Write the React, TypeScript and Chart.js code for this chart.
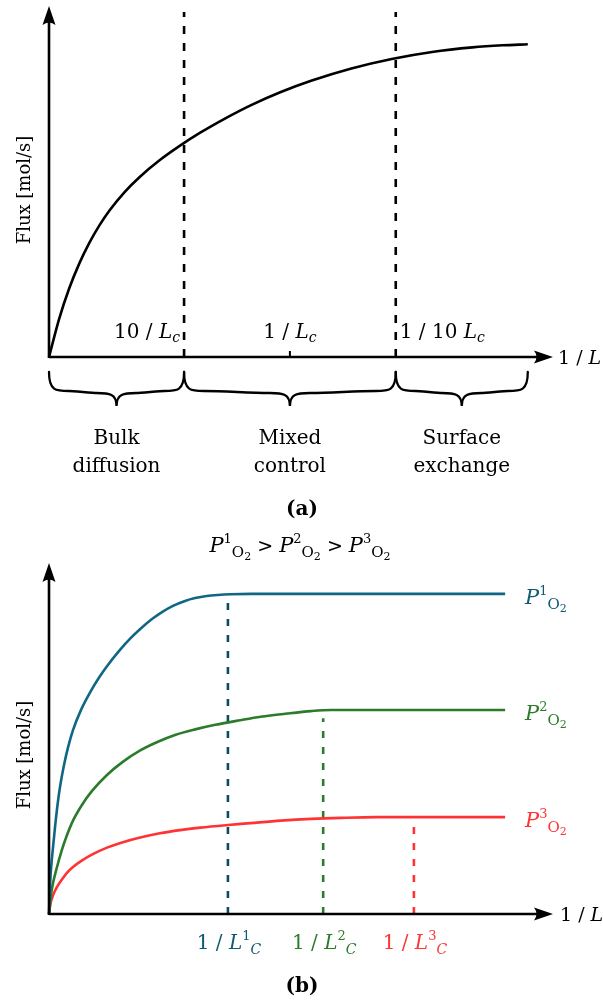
import { useEffect, useRef } from "react";
import { Chart, registerables } from "chart.js";
Chart.register(...registerables);

// ---------- Panel (a) data ----------
const topCurveX = [0, 2, 4, 6, 8, 10, 12, 15, 18, 22, 26, 30, 35, 40, 46, 52, 60, 68, 76, 84, 90, 95];
const topCurveY = [0, 10.8, 19.5, 26.6, 32.5, 37.5, 41.75, 47.0, 51.3, 56.1, 60.2, 63.9, 68.0, 71.7, 75.5, 78.7, 82.2, 84.9, 86.9, 88.2, 88.8, 89.1];
const topDividers = [26.8, 68.8];
const topDividerTop = 98.3;
const topTickX = 47.8;
const topTickLabels = ["10 / ", "1 / ", "1 / 10 "];
const topTickLabelX = [26.8, 47.8, 68.8];
const regionEdges = [0, 26.8, 68.8, 95.0];
const regionLabels = [
  ["Bulk", "diffusion"],
  ["Mixed", "control"],
  ["Surface", "exchange"],
];

// ---------- Panel (b) data ----------
const bX1 = [0, 0.25, 0.5, 0.79, 1.2, 1.7, 2.18, 3.0, 3.8, 4.76, 6.4, 8.13, 10, 11.5, 14, 16, 18.1, 20.5, 22.5, 24.6, 27, 29, 31.3, 33.5, 36, 40, 90.5];
const bY1 = [0, 9.5, 14.5, 18.9, 24.8, 31.2, 36.2, 42.6, 47.6, 52.4, 58.3, 63.1, 67.5, 70.6, 75.1, 78.3, 81.2, 84.1, 86.1, 87.8, 89.2, 90.0, 90.6, 90.9, 91.1, 91.2, 91.2];
const bX2 = [0, 0.4, 0.8, 1.59, 2.5, 3.5, 4.76, 6.5, 8.5, 11.5, 14.5, 18.1, 21.5, 25, 29, 33, 37.9, 42, 47.2, 52, 56, 90.5];
const bY2 = [0, 5.5, 8.8, 13.4, 18.0, 22.2, 26.6, 31.0, 35.0, 39.6, 43.2, 46.6, 49.0, 51.0, 52.6, 53.9, 55.2, 56.2, 57.1, 57.8, 58.1, 58.1];
const bX3 = [0, 0.3, 0.8, 1.59, 2.6, 3.6, 4.76, 6.5, 8.5, 11.5, 14.5, 18.1, 22, 26, 30, 35, 40, 46, 52, 58, 65, 90.5];
const bY3 = [0, 3.0, 5.3, 7.7, 9.9, 11.8, 13.4, 15.2, 16.9, 18.9, 20.4, 21.8, 23.0, 23.9, 24.6, 25.3, 25.9, 26.6, 27.1, 27.4, 27.6, 27.6];
const seriesIndex = ["1", "2", "3"];
const criticalX = [35.5, 54.4, 72.4];
const criticalTop = [90.0, 55.8, 25.9];
const seriesColors = ["#0f6784", "#2b7b2b", "#ff3333"];
const dashColors = ["#0b4d60", "#2b7b2b", "#ff3333"];
const labelColors = ["#0d5a72", "#2b7b2b", "#ff3333"];

const SERIF = '"DejaVu Serif", serif';
const f = (size: number, style = "") => `${style} ${size}px ${SERIF}`.trim();

type Seg = { t: string; font: string; dy?: number };

function drawRich(ctx: CanvasRenderingContext2D, segs: Seg[], x: number, y: number, align: "left" | "center" | "right", color: string) {
  ctx.save();
  ctx.textBaseline = "alphabetic";
  ctx.textAlign = "left";
  let total = 0;
  const ws = segs.map((s) => {
    ctx.font = s.font;
    const w = ctx.measureText(s.t).width;
    total += w;
    return w;
  });
  let cx = align === "left" ? x : align === "center" ? x - total / 2 : x - total;
  ctx.fillStyle = color;
  segs.forEach((s, i) => {
    ctx.font = s.font;
    ctx.fillText(s.t, cx, y + (s.dy || 0));
    cx += ws[i];
  });
  ctx.restore();
}

function drawArrow(ctx: CanvasRenderingContext2D, x0: number, y0: number, x1: number, y1: number) {
  const ang = Math.atan2(y1 - y0, x1 - x0);
  ctx.save();
  ctx.strokeStyle = "#000";
  ctx.fillStyle = "#000";
  ctx.lineWidth = 2.6;
  ctx.beginPath();
  ctx.moveTo(x0, y0);
  ctx.lineTo(x1 - 12 * Math.cos(ang), y1 - 12 * Math.sin(ang));
  ctx.stroke();
  ctx.translate(x1, y1);
  ctx.rotate(ang);
  ctx.beginPath();
  ctx.moveTo(0, 0);
  ctx.lineTo(-19, -6.5);
  ctx.quadraticCurveTo(-14, 0, -19, 6.5);
  ctx.closePath();
  ctx.fill();
  ctx.restore();
}

function drawBrace(ctx: CanvasRenderingContext2D, x1: number, x2: number, y0: number, ym: number, yt: number) {
  const xm = (x1 + x2) / 2;
  const r = 20;
  ctx.save();
  ctx.strokeStyle = "#000";
  ctx.lineWidth = 2.3;
  ctx.lineCap = "round";
  ctx.beginPath();
  ctx.moveTo(x1, y0);
  ctx.bezierCurveTo(x1, ym - 1, x1 + r * 0.35, ym - 1, x1 + r, ym - 1);
  ctx.bezierCurveTo((x1 + xm) / 2 - 10, ym - 1, (x1 + xm) / 2 + 10, ym + 1, xm - r, ym + 1);
  ctx.bezierCurveTo(xm - r * 0.35, ym + 1, xm, ym + 2, xm, yt);
  ctx.bezierCurveTo(xm, ym + 2, xm + r * 0.35, ym + 1, xm + r, ym + 1);
  ctx.bezierCurveTo((xm + x2) / 2 - 10, ym + 1, (xm + x2) / 2 + 10, ym - 1, x2 - r, ym - 1);
  ctx.bezierCurveTo(x2 - r * 0.35, ym - 1, x2, ym - 1, x2, y0);
  ctx.stroke();
  ctx.restore();
}

function drawYLabel(ctx: CanvasRenderingContext2D, x: number, y: number) {
  ctx.save();
  ctx.translate(x, y);
  ctx.rotate(-Math.PI / 2);
  ctx.font = f(18);
  ctx.fillStyle = "#000";
  ctx.textAlign = "center";
  ctx.textBaseline = "middle";
  ctx.fillText("Flux [mol/s]", 0, 0);
  ctx.restore();
}

function pLabel(s: string): Seg[] {
  return [
    { t: "P", font: f(21, "italic") },
    { t: s, font: f(13), dy: -9 },
    { t: "O", font: f(15), dy: 5 },
    { t: "2", font: f(11), dy: 8 },
  ];
}

function pts(xs: number[], ys: number[]) {
  return xs.map((x, i) => ({ x, y: ys[i] }));
}

const baseScales = {
  x: { type: "linear" as const, min: 0, max: 100, display: false },
  y: { type: "linear" as const, min: 0, max: 100, display: false },
};

export default function App() {
  const refA = useRef<HTMLCanvasElement>(null);
  const refB = useRef<HTMLCanvasElement>(null);

  useEffect(() => {
    const decoA = {
      id: "decoA",
      afterDatasetsDraw(chart: any) {
        const ctx = chart.ctx as CanvasRenderingContext2D;
        const xs = chart.scales.x;
        const ys = chart.scales.y;
        const ox = xs.getPixelForValue(0);
        const oy = ys.getPixelForValue(0);
        drawArrow(ctx, ox, oy, xs.getPixelForValue(100), oy);
        drawArrow(ctx, ox, oy + 1, ox, ys.getPixelForValue(100));
        ctx.save();
        ctx.strokeStyle = "#000";
        ctx.lineWidth = 2;
        const tx = xs.getPixelForValue(topTickX);
        ctx.beginPath();
        ctx.moveTo(tx, oy);
        ctx.lineTo(tx, oy - 6);
        ctx.stroke();
        ctx.restore();
        const ly = oy - 19;
        topTickLabels.forEach((t, i) => {
          const px = xs.getPixelForValue(topTickLabelX[i]);
          const segs: Seg[] = [
            { t, font: f(20) },
            { t: "L", font: f(20, "italic") },
            { t: "c", font: f(14, "italic"), dy: 4 },
          ];
          const align = i === 0 ? "right" : i === 1 ? "center" : "left";
          const x = i === 0 ? px - 4 : i === 1 ? px : px + 4;
          drawRich(ctx, segs, x, ly, align, "#000");
        });
        drawRich(ctx, [{ t: "1 / ", font: f(19) }, { t: "L", font: f(19, "italic") }], 558, oy + 7, "left", "#000");
        for (let i = 0; i < 3; i++) {
          const a = xs.getPixelForValue(regionEdges[i]);
          const b = xs.getPixelForValue(regionEdges[i + 1]);
          drawBrace(ctx, a, b, oy + 15, oy + 35, oy + 49);
          const cx = (a + b) / 2;
          ctx.save();
          ctx.font = f(20);
          ctx.fillStyle = "#000";
          ctx.textAlign = "center";
          ctx.textBaseline = "alphabetic";
          ctx.fillText(regionLabels[i][0], cx, oy + 87);
          ctx.fillText(regionLabels[i][1], cx, oy + 115);
          ctx.restore();
        }
        drawYLabel(ctx, 25, 190);
        ctx.save();
        ctx.font = f(20, "bold");
        ctx.fillStyle = "#000";
        ctx.textAlign = "center";
        ctx.textBaseline = "alphabetic";
        ctx.fillText("(a)", 302, 515);
        ctx.restore();
      },
    };

    const chartA = new Chart(refA.current!, {
      type: "line",
      data: {
        datasets: [
          {
            data: pts(topCurveX, topCurveY),
            borderColor: "#000",
            borderWidth: 2.6,
            pointRadius: 0,
            cubicInterpolationMode: "monotone",
            clip: false as any,
          },
          ...topDividers.map((d) => ({
            data: [
              { x: d, y: 0 },
              { x: d, y: topDividerTop },
            ],
            borderColor: "#000",
            borderWidth: 2.6,
            borderDash: [8, 9],
            pointRadius: 0,
            clip: false as any,
          })),
        ],
      },
      options: {
        responsive: false,
        animation: false,
        events: [],
        layout: { padding: { left: 49, right: 50, top: 6, bottom: 163 } },
        plugins: { legend: { display: false }, tooltip: { enabled: false } },
        scales: baseScales,
      },
      plugins: [decoA],
    });

    const decoB = {
      id: "decoB",
      afterDatasetsDraw(chart: any) {
        const ctx = chart.ctx as CanvasRenderingContext2D;
        const xs = chart.scales.x;
        const ys = chart.scales.y;
        const ox = xs.getPixelForValue(0);
        const oy = ys.getPixelForValue(0);
        drawArrow(ctx, ox, oy, xs.getPixelForValue(100), oy);
        drawArrow(ctx, ox, oy + 1, ox, ys.getPixelForValue(100));
        drawRich(ctx, [{ t: "1 / ", font: f(19) }, { t: "L", font: f(19, "italic") }], 560, oy + 7, "left", "#000");
        const title: Seg[] = [];
        seriesIndex.forEach((s, i) => {
          title.push(...pLabel(s));
          if (i < 2) title.push({ t: " > ", font: f(19) });
        });
        drawRich(ctx, title, 300, 32, "center", "#000");
        const lastY = [bY1, bY2, bY3].map((a) => a[a.length - 1]);
        seriesIndex.forEach((s, i) => {
          const py = ys.getPixelForValue(lastY[i]);
          drawRich(ctx, pLabel(s), 525, py + 10, "left", labelColors[i]);
          drawRich(
            ctx,
            [
              { t: "1 / ", font: f(20) },
              { t: "L", font: f(20, "italic") },
              { t: s, font: f(13), dy: -9 },
              { t: "C", font: f(14, "italic"), dy: 5 },
            ],
            xs.getPixelForValue(criticalX[i]) + 1,
            oy + 35,
            "center",
            labelColors[i]
          );
        });
        drawYLabel(ctx, 25, 235);
        ctx.save();
        ctx.font = f(20, "bold");
        ctx.fillStyle = "#000";
        ctx.textAlign = "center";
        ctx.textBaseline = "alphabetic";
        ctx.fillText("(b)", 302, 472);
        ctx.restore();
      },
    };

    const curves = [pts(bX1, bY1), pts(bX2, bY2), pts(bX3, bY3)];
    const chartB = new Chart(refB.current!, {
      type: "line",
      data: {
        datasets: [
          ...curves.map((c, i) => ({
            data: c,
            borderColor: seriesColors[i],
            borderWidth: 2.6,
            pointRadius: 0,
            cubicInterpolationMode: "monotone" as const,
            clip: false as any,
          })),
          ...criticalX.map((cx, i) => ({
            data: [
              { x: cx, y: 0 },
              { x: cx, y: criticalTop[i] },
            ],
            borderColor: dashColors[i],
            borderWidth: 2.6,
            borderDash: [7, 9],
            pointRadius: 0,
            clip: false as any,
          })),
        ],
      },
      options: {
        responsive: false,
        animation: false,
        events: [],
        layout: { padding: { left: 49, right: 50, top: 43, bottom: 89 } },
        plugins: { legend: { display: false }, tooltip: { enabled: false } },
        scales: baseScales,
      },
      plugins: [decoB],
    });

    return () => {
      chartA.destroy();
      chartB.destroy();
    };
  }, []);

  return (
    <div style={{ position: "absolute", left: 0, top: 0, width: 603, height: 1003, background: "#fff" }}>
      <canvas ref={refA} width={603} height={520} style={{ position: "absolute", left: 0, top: 0, width: 603, height: 520 }} />
      <canvas ref={refB} width={603} height={483} style={{ position: "absolute", left: 0, top: 520, width: 603, height: 483 }} />
    </div>
  );
}
